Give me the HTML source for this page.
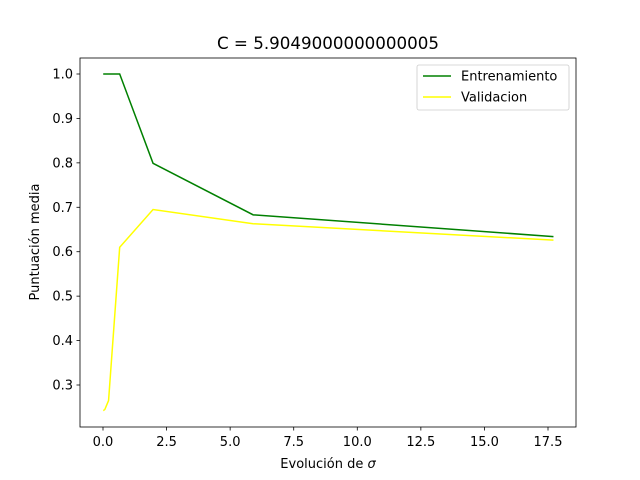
<!DOCTYPE html>
<html><head><meta charset="utf-8"><style>body{margin:0;background:#fff}svg{display:block;font-family:"DejaVu Sans","Liberation Sans",sans-serif}</style></head>
<body>
<svg id="chart" width="640" height="480" xmlns="http://www.w3.org/2000/svg"></svg>
<script>
const sigmas = [0.0081, 0.0243, 0.0729, 0.2187, 0.6561, 1.9683, 5.9049, 17.7147];
const trainScores = [1.0, 1.0, 1.0, 1.0, 1.0, 0.799, 0.683, 0.634];
const valScores = [0.243, 0.243, 0.245, 0.265, 0.61, 0.695, 0.663, 0.626];
const xTicks = [0, 2.5, 5, 7.5, 10, 12.5, 15, 17.5];
const xTickLabels = ["0.0","2.5","5.0","7.5","10.0","12.5","15.0","17.5"];
const yTicks = [0.3,0.4,0.5,0.6,0.7,0.8,0.9,1.0];
const yTickLabels = ["0.3","0.4","0.5","0.6","0.7","0.8","0.9","1.0"];

const NS="http://www.w3.org/2000/svg", svg=document.getElementById('chart');
const L=80,R=576,T=58,B=427;
const xs=v=>103+(v-0)*(548-103)/17.5;
const ys=v=>74+(1.0-v)*(385-74)/0.7;
function mk(tag,attrs,parent){const e=document.createElementNS(NS,tag);for(const k in attrs)e.setAttribute(k,attrs[k]);(parent||svg).appendChild(e);return e;}

const title=mk('text',{x:328,y:49,'text-anchor':'middle','font-size':16.7});
title.textContent='C = 5.9049000000000005';



function line(vals,color,name){
  const p=mk('polyline',{points:sigmas.map((s,i)=>xs(s)+','+ys(vals[i])).join(' '),fill:'none',stroke:color,'stroke-width':1.5});
  
  
}
line(trainScores,'#008000','train-line');
line(valScores,'#ffff00','validation-line');

const frame=mk('rect',{x:L,y:T,width:R-L,height:B-T,fill:'none',stroke:'#000','stroke-width':0.8});



xTicks.forEach((t,i)=>{
  const x=xs(t);
  const tk=mk('line',{x1:x,x2:x,y1:B,y2:B+3.5,stroke:'#000','stroke-width':0.8});
  
  
  const lb=mk('text',{x:x,y:B+19,'text-anchor':'middle','font-size':13});
  lb.textContent=xTickLabels[i];
  
  
});
yTicks.forEach((t,i)=>{
  const y=ys(t);
  const tk=mk('line',{x1:L-3.5,x2:L,y1:y,y2:y,stroke:'#000','stroke-width':0.8});
  
  
  const lb=mk('text',{x:L-7,y:y+4.5,'text-anchor':'end','font-size':13});
  lb.textContent=yTickLabels[i];
  
  
});

const xl=mk('text',{x:328,y:468,'text-anchor':'middle','font-size':13});
xl.innerHTML='Evolución de <tspan font-style="italic">σ</tspan>';


const yl=mk('text',{x:0,y:0,'text-anchor':'middle','font-size':13,transform:'translate(39,242) rotate(-90)'});
yl.textContent='Puntuación media';



const lg=mk('g',{});


mk('rect',{x:417,y:65,width:152,height:45,rx:2,fill:'#fff',stroke:'#ccc','stroke-width':0.8},lg);
[['Entrenamiento','#008000',76],['Validacion','#ffff00',97]].forEach(([n,c,y])=>{
  const g=mk('g',{},lg);
  
  
  mk('line',{x1:423,x2:451,y1:y,y2:y,stroke:c,'stroke-width':1.5},g);
  const t=mk('text',{x:461,y:y+4.5,'font-size':13},g);
  t.textContent=n;
});
</script>
</body></html>
